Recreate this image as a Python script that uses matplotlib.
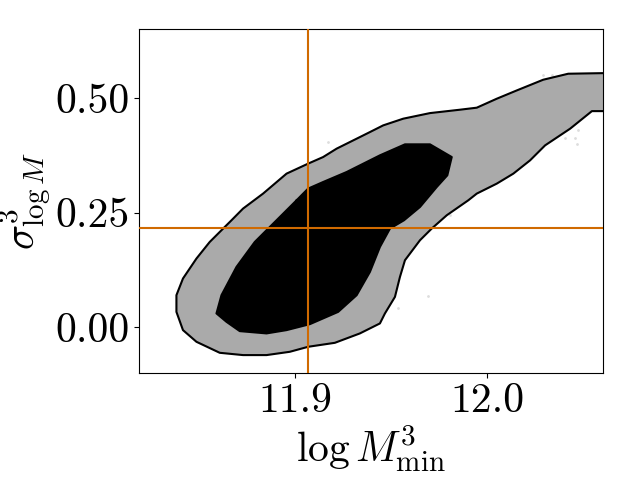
import numpy as np
import matplotlib
matplotlib.use("Agg")
import matplotlib.pyplot as plt

plt.rcParams['font.family'] = 'serif'
plt.rcParams['font.serif'] = ['cmr10', 'DejaVu Serif']
plt.rcParams['mathtext.fontset'] = 'cm'
plt.rcParams['axes.formatter.use_mathtext'] = True

# outer (2-sigma) contour: top edge right->left, then bottom left->right
outer_x = [12.075, 12.0602, 12.0420, 12.0290, 12.0153, 12.0049, 11.9945, 11.9858, 11.9702,
           11.9563, 11.9459, 11.9390, 11.9338, 11.9217, 11.9147, 11.9069, 11.8957, 11.8835,
           11.8731, 11.8671, 11.8636, 11.8558, 11.8489, 11.8419, 11.8385, 11.8385, 11.8419,
           11.8489, 11.8610, 11.8731, 11.8853, 11.8974, 11.9069, 11.9208, 11.9338, 11.9442,
           11.9468, 11.9520, 11.9546, 11.9572, 11.9650, 11.9711, 11.9789, 11.9901, 11.9945,
           12.0049, 12.0135, 12.0222, 12.0300, 12.0430, 12.0543, 12.0602, 12.075]
outer_y = [0.5543, 0.5543, 0.5530, 0.5399, 0.5166, 0.4985, 0.4789, 0.4745, 0.4671,
           0.4549, 0.4403, 0.4257, 0.4148, 0.3895, 0.3712, 0.3568, 0.3350, 0.2914,
           0.2587, 0.2332, 0.2186, 0.1859, 0.1497, 0.1061, 0.0697, 0.0333, -0.0065,
           -0.0320, -0.0560, -0.0610, -0.0610, -0.0538, -0.0429, -0.0342, -0.0137, 0.0081,
           0.0299, 0.0660, 0.1096, 0.1460, 0.1896, 0.2151, 0.2441, 0.2768, 0.2914,
           0.3132, 0.3350, 0.3640, 0.3967, 0.4331, 0.4714, 0.4714, 0.4714]

# inner (1-sigma) contour
inner_x = [11.9009, 11.9069, 11.9147, 11.9269, 11.9442, 11.9572, 11.9702, 11.9815, 11.9792,
           11.9737, 11.9650, 11.9567, 11.9494, 11.9442, 11.9390, 11.9321, 11.9225, 11.9078,
           11.8957, 11.8853, 11.8714, 11.8645, 11.8593, 11.8619, 11.8697, 11.8792, 11.8870,
           11.8905]
inner_y = [0.2768, 0.3023, 0.3167, 0.3385, 0.3749, 0.3989, 0.3989, 0.3712, 0.3313,
           0.3058, 0.2622, 0.2332, 0.2151, 0.1750, 0.1205, 0.0697, 0.0333, 0.0065,
           -0.0065, -0.0137, -0.0087, 0.0116, 0.0299, 0.0697, 0.1314, 0.1859, 0.2186,
           0.2332]

# stray samples outside the contours
pts_x = [11.9173, 12.0291, 12.0335, 12.0404, 12.0456, 12.0473, 12.0468, 11.9806, 11.9693, 11.9534]
pts_y = [0.4039, 0.5493, 0.5493, 0.4135, 0.4135, 0.4294, 0.3989, 0.2441, 0.0682, 0.0421]

# truth values
truth_x = 11.9066
truth_y = 0.2158

fig = plt.figure(figsize=(6.4, 4.8), dpi=100)
ax = fig.add_subplot(111)
fig.subplots_adjust(left=0.217, right=0.942, bottom=0.223, top=0.939)

ax.plot(pts_x, pts_y, 'o', color='#dddddd', ms=2, mew=0, zorder=1)
ax.fill(outer_x, outer_y, color='#aaaaaa', lw=0, zorder=2)
ax.plot(outer_x, outer_y, color='k', lw=1.5, zorder=3)
ax.fill(inner_x, inner_y, color='k', lw=0, zorder=4)
ax.plot(inner_x + inner_x[:1], inner_y + inner_y[:1], color='k', lw=1.5, zorder=4)

ax.axvline(truth_x, color='#d06a00', lw=1.5, zorder=5)
ax.axhline(truth_y, color='#d06a00', lw=1.5, zorder=5)

ax.set_xlim(11.819, 12.060)
ax.set_ylim(-0.1, 0.65)
ax.set_xticks([11.9, 12.0])
ax.set_yticks([0.0, 0.25, 0.5])
ax.set_xticklabels(['11.9', '12.0'])
ax.set_yticklabels(['0.00', '0.25', '0.50'])
ax.tick_params(labelsize=30)
ax.set_xlabel(r'$\log M^3_{\rm min}$', fontsize=30, labelpad=2)
ax.set_ylabel(r'$\sigma^3_{\log M}$', fontsize=30, labelpad=1)

plt.savefig('out.png')
